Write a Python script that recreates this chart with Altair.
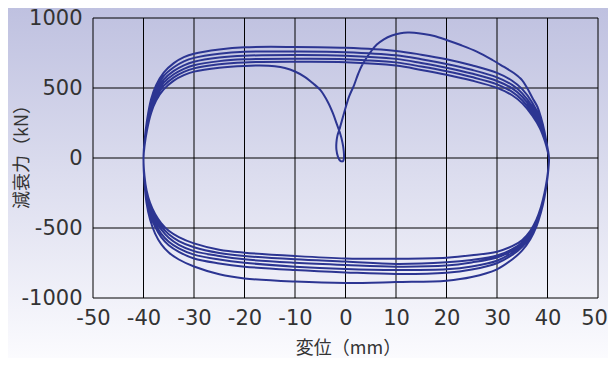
import altair as alt
import pandas as pd

# ---- axis ticks ----
x_ticks = [-50, -40, -30, -20, -10, 0, 10, 20, 30, 40, 50]
y_ticks = [-1000, -500, 0, 500, 1000]

# ---- first loading curve (from the small loop at the origin to the right end) ----
init_x = [-0.7, -1.1, -1.5, -1.8, -1.8, -1.6, -1.2, -0.3, 0.7, 1.7, 2.5, 3.3, 5.0, 6.2, 7.6, 9.2,
          10.9, 12.3, 13.6, 15.5, 17.6, 20.0, 22.8, 26.0, 29.1, 31.3, 33.4, 35.0, 36.0, 37.0,
          38.0, 38.7, 39.4, 39.9, 40.3]
init_y = [-26, -18, 10, 60, 110, 160, 205, 319, 438, 521, 600, 664, 759, 810, 848, 875,
          891, 896, 895, 886, 871, 843, 807, 760, 700, 652, 605, 555, 498, 430,
          366, 290, 190, 90, 0]

# ---- lower branches (moving right -> left) ----
bottom_x = [40.3, 40.2, 39.9, 39.4, 38.7, 37.8, 36.6, 35.0, 33.0, 30.0, 25.0, 20.0, 10.0, 0.0,
            -10.0, -20.0, -25.0, -30.0, -33.0, -35.0, -36.5, -37.7, -38.7, -39.4, -39.8, -40.0]
bottom1_y = [0, -70, -170, -280, -390, -490, -580, -660, -725, -795, -850, -876, -886, -893,
             -883, -860, -830, -775, -725, -675, -615, -540, -440, -320, -180, 0]
bottom2_y = [0, -67, -163, -270, -376, -473, -560, -634, -693, -752, -797, -820, -829, -817,
             -800, -776, -753, -718, -670, -623, -565, -492, -400, -290, -163, 0]
bottom3_y = [0, -65, -160, -265, -370, -465, -550, -622, -677, -734, -775, -795, -800, -793,
             -776, -748, -725, -690, -645, -598, -540, -470, -380, -275, -155, 0]
bottom4_y = [0, -63, -157, -260, -363, -457, -540, -610, -661, -711, -746, -768, -776, -764,
             -748, -724, -700, -665, -620, -570, -510, -445, -360, -260, -145, 0]
bottom5_y = [0, -62, -155, -255, -357, -450, -533, -603, -651, -697, -728, -745, -757, -740,
             -724, -700, -678, -637, -593, -545, -487, -422, -340, -245, -138, 0]
bottom6_y = [0, -60, -150, -250, -350, -440, -520, -585, -630, -669, -695, -712, -719, -717,
             -700, -676, -655, -610, -565, -520, -465, -400, -320, -230, -130, 0]

# ---- upper branches (moving left -> right) ----
top_x = [-40.0, -39.8, -39.3, -38.5, -37.5, -36.0, -34.0, -32.0, -30.0, -25.0, -20.0, -10.0, 0.0,
         10.0, 15.0, 20.0, 25.0, 30.0, 33.0, 35.0, 37.0, 38.5, 39.5, 40.1, 40.3]
top2_y = [0, 120, 270, 420, 520, 610, 678, 720, 745, 775, 791, 793, 787,
          765, 738, 705, 662, 608, 552, 492, 395, 285, 160, 55, 0]
top3_y = [0, 110, 255, 400, 495, 585, 648, 690, 715, 745, 759, 761, 756,
          734, 706, 672, 630, 576, 522, 462, 368, 262, 148, 50, 0]
top4_y = [0, 100, 240, 380, 475, 560, 622, 662, 688, 718, 731, 735, 731,
          708, 679, 645, 603, 550, 497, 438, 345, 245, 138, 45, 0]
top5_y = [0, 95, 225, 360, 455, 538, 598, 637, 662, 692, 705, 709, 706,
          683, 653, 619, 578, 526, 472, 413, 323, 228, 128, 42, 0]
top6_y = [0, 90, 210, 345, 435, 515, 576, 615, 640, 670, 683, 687, 684,
          660, 629, 594, 553, 501, 448, 390, 302, 212, 118, 38, 0]

# ---- final partial upper branch returning to the origin ----
final_x = [-40.0, -39.8, -39.3, -38.5, -37.5, -36.0, -34.0, -32.0, -30.0, -25.0, -20.0, -17.0,
           -14.0, -12.0, -10.0, -8.0, -6.5, -5.0, -3.5, -2.5, -1.7, -1.1, -0.6, -0.35, -0.3,
           -0.45, -0.7]
final_y = [0, 85, 200, 320, 410, 490, 553, 592, 617, 645, 658, 660,
           655, 643, 618, 578, 535, 486, 400, 320, 240, 180, 110, 50, 0,
           -20, -26]

segments = [
    (init_x, init_y),
    (bottom_x, bottom1_y), (top_x, top2_y),
    (bottom_x, bottom2_y), (top_x, top3_y),
    (bottom_x, bottom3_y), (top_x, top4_y),
    (bottom_x, bottom4_y), (top_x, top5_y),
    (bottom_x, bottom5_y), (top_x, top6_y),
    (bottom_x, bottom6_y), (final_x, final_y),
]
px, py = [], []
for sx, sy in segments:
    start = 1 if px else 0
    px.extend(sx[start:])
    py.extend(sy[start:])
df = pd.DataFrame({"x": px, "y": py, "i": list(range(len(px)))})

W, H = 505, 280
PADL, PADT, PADR, PADB = 85, 10, 10, 60

xscale = alt.Scale(domain=[-50, 50], nice=False, zero=False)
yscale = alt.Scale(domain=[-1000, 1000], nice=False, zero=False)

xaxis = alt.Axis(values=x_ticks, grid=False, domain=False, ticks=False, zindex=2,
                 labelExpr="'' + datum.value",
                 labelFont="DejaVu Sans", labelFontSize=21, labelColor="#333333",
                 labelPadding=9, labelFlush=False, labelOverlap=False,
                 labelOffset={"condition": {"test": "datum.value == 50", "value": -4}, "value": 0},
                 title="変位（mm）", titleFont="Noto Sans CJK JP", titleFontSize=18,
                 titleFontWeight="normal", titleColor="#333333",
                 titleX=255, titleY=50, titleAlign="center", titleBaseline="middle")
yaxis = alt.Axis(values=y_ticks, grid=False, domain=False, ticks=False, zindex=2,
                 labelExpr="'' + datum.value",
                 labelFont="DejaVu Sans", labelFontSize=21, labelColor="#333333",
                 labelPadding=11, labelFlush=False, labelOverlap=False,
                 title="減衰力（kN）", titleFont="Noto Sans CJK JP", titleFontSize=18,
                 titleFontWeight="normal", titleColor="#333333", titleAngle=270,
                 titleX=-71, titleY=134, titleAlign="center", titleBaseline="middle")

bg = alt.Chart(pd.DataFrame({"a": [0]})).mark_rect(
    clip=False,
    fill=alt.Gradient(gradient="linear", x1=0, x2=0, y1=0, y2=1,
                      stops=[alt.GradientStop(color="#bfc1e0", offset=0),
                             alt.GradientStop(color="#fbfbfe", offset=1)]),
).encode(x=alt.value(-PADL), x2=alt.value(W + PADR), y=alt.value(-PADT), y2=alt.value(H + PADB))

vgrid = alt.Chart(pd.DataFrame({"v": x_ticks})).mark_rule(color="black", strokeWidth=1).encode(
    x=alt.X("v:Q", scale=xscale, axis=xaxis))
hgrid = alt.Chart(pd.DataFrame({"v": y_ticks})).mark_rule(color="black", strokeWidth=1).encode(
    y=alt.Y("v:Q", scale=yscale, axis=yaxis))

loop = alt.Chart(df).mark_line(color="#2c3592", strokeWidth=2, interpolate="catmull-rom").encode(
    x=alt.X("x:Q", scale=xscale, axis=xaxis),
    y=alt.Y("y:Q", scale=yscale, axis=yaxis),
    order="i:Q",
)

chart = alt.layer(bg, vgrid, hgrid, loop).properties(
    width=W, height=H,
    autosize=alt.AutoSizeParams(type="none"),
    padding={"left": PADL, "top": PADT, "right": PADR, "bottom": PADB},
    background="#ffffff",
).configure_view(stroke=None)

chart.save("out.html", embed_options={"renderer": "svg", "actions": False})
